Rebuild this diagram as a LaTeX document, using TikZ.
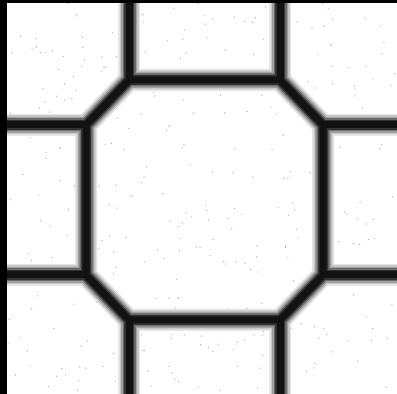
\documentclass[tikz,border=0pt]{standalone}
\begin{document}
\begin{tikzpicture}[x=1pt,y=1pt,
  lay/.style={draw=black!#1,line join=miter}]
\useasboundingbox (0,0) rectangle (397,394);
\fill[white] (0,0) rectangle (397,394);
% speckles
\pgfmathsetseed{7}
\foreach \i in {1,...,350}{
  \pgfmathsetmacro{\px}{8+rnd*389}
  \pgfmathsetmacro{\py}{rnd*391}
  \fill[black!30] (\px,\py) circle (0.7pt);
}
% geometry (y flipped: ty = 394 - y)
\coordinate (A) at (129,314);
\coordinate (B) at (280,314);
\coordinate (C) at (323,269);
\coordinate (D) at (323,119);
\coordinate (E) at (280,74);
\coordinate (F) at (129,74);
\coordinate (G) at (86,119);
\coordinate (H) at (86,269);
\foreach \w/\c in {22/10,19/22,16/38,13/58,10/80,7/93}{
  \begin{scope}[line width=\w pt]
  \path[lay=\c] (A) -- (B) -- (C) -- (D) -- (E) -- (F) -- (G) -- (H) -- cycle;
  \path[lay=\c] (A) -- (129,400);
  \path[lay=\c] (B) -- (280,400);
  \path[lay=\c] (C) -- (405,269);
  \path[lay=\c] (D) -- (405,119);
  \path[lay=\c] (E) -- (280,-10);
  \path[lay=\c] (F) -- (129,-10);
  \path[lay=\c] (G) -- (0,119);
  \path[lay=\c] (H) -- (0,269);
  \end{scope}
}
% black frame strips
\fill[black] (0,0) rectangle (7,394);
\fill[black] (0,391) rectangle (397,394);
\end{tikzpicture}
\end{document}
